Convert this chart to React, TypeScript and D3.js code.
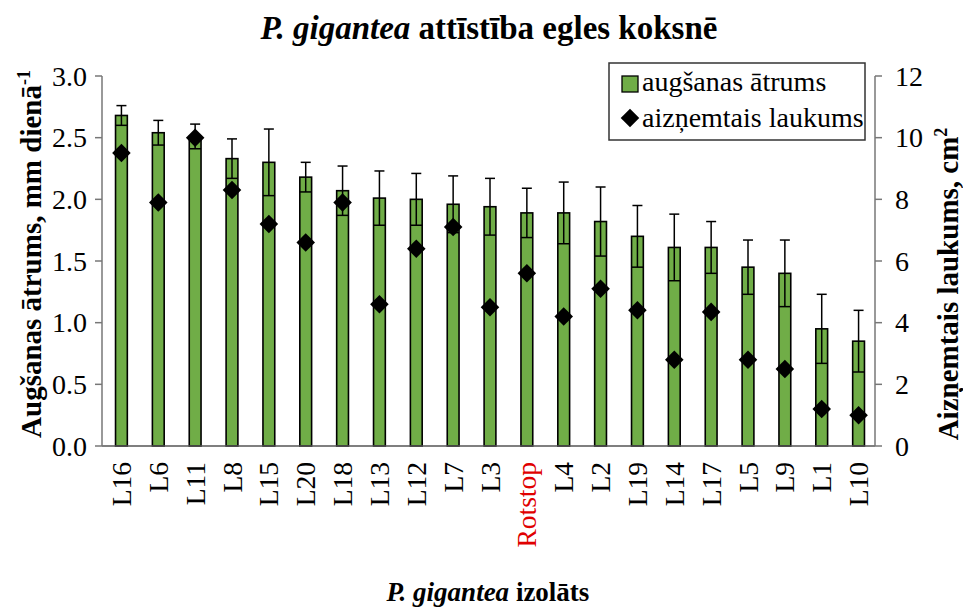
import React from "react";
import * as d3 from "d3";

const categories = ["L16","L6","L11","L8","L15","L20","L18","L13","L12","L7","L3","Rotstop","L4","L2","L19","L14","L17","L5","L9","L1","L10"];
const growthRate = [2.68,2.54,2.51,2.33,2.30,2.18,2.07,2.01,2.00,1.96,1.94,1.89,1.89,1.82,1.70,1.61,1.61,1.45,1.40,0.95,0.85];
const growthErr = [0.08,0.1,0.1,0.16,0.27,0.12,0.2,0.22,0.21,0.23,0.23,0.2,0.25,0.28,0.25,0.27,0.21,0.22,0.27,0.28,0.25];
const area = [9.5,7.9,10.0,8.3,7.2,6.6,7.9,4.6,6.4,7.1,4.5,5.6,4.2,5.1,4.4,2.8,4.35,2.8,2.5,1.2,1.0];
const leftTicks = [0,0.5,1,1.5,2,2.5,3];
const rightTicks = [0,2,4,6,8,10,12];

const W = 963, H = 607;
const FONT = "'Liberation Serif', 'Times New Roman', serif";

export default function App() {
  const left = 102, right = 875, top = 76, bottom = 446;
  const x = d3.scaleBand<string>().domain(categories).range([left + 1, right + 2]).paddingInner(0.68).paddingOuter(0.34);
  const yL = d3.scaleLinear().domain([0, 3]).range([bottom, top]);
  const yR = d3.scaleLinear().domain([0, 12]).range([bottom, top]);
  const bw = x.bandwidth();
  const diamond = d3.symbol().type(d3.symbolDiamond2).size(220)();

  return (
    <svg width={W} height={H} style={{ position: "absolute", left: 0, top: 0, background: "#fff" }} fontFamily={FONT}>
      <rect width={W} height={H} fill="#fff" />
      {/* title */}
      <text x={489} y={39} textAnchor="middle" fontSize={33} fontWeight="bold" fill="#000">
        <tspan fontStyle="italic">P. gigantea</tspan> attīstība egles koksnē
      </text>

      {/* bars */}
      {categories.map((c, i) => {
        const cx = (x(c) as number) + bw / 2;
        return (
          <g key={c}>
            <rect x={x(c)} y={yL(growthRate[i])} width={bw} height={bottom - yL(growthRate[i])} fill="#70AD47" stroke="#000" strokeWidth={1.6} />
            <line x1={cx} x2={cx} y1={yL(growthRate[i] - growthErr[i])} y2={yL(growthRate[i] + growthErr[i])} stroke="#000" strokeWidth={1.5} />
            <line x1={cx - bw / 2} x2={cx + bw / 2} y1={yL(growthRate[i] - growthErr[i])} y2={yL(growthRate[i] - growthErr[i])} stroke="#000" strokeWidth={1.5} />
            <line x1={cx - 5} x2={cx + 5} y1={yL(growthRate[i] + growthErr[i])} y2={yL(growthRate[i] + growthErr[i])} stroke="#000" strokeWidth={1.5} />
          </g>
        );
      })}
      {/* diamonds */}
      {categories.map((c, i) => {
        const cx = (x(c) as number) + bw / 2;
        return <path key={"d" + c} d={diamond || ""} transform={`translate(${cx},${yR(area[i])})`} fill="#000" />;
      })}

      {/* axes */}
      <line x1={left} x2={right} y1={bottom} y2={bottom} stroke="#555" strokeWidth={1.5} />
      <line x1={left} x2={left} y1={top} y2={bottom} stroke="#777" strokeWidth={1.5} />
      <line x1={right} x2={right} y1={top} y2={bottom} stroke="#777" strokeWidth={1.5} />
      {leftTicks.map((t) => (
        <g key={"l" + t}>
          <line x1={left - 7} x2={left} y1={yL(t)} y2={yL(t)} stroke="#777" strokeWidth={1.5} />
          <text x={87} y={yL(t)} dy="0.35em" textAnchor="end" fontSize={28} fill="#000">{d3.format(".1f")(t)}</text>
        </g>
      ))}
      {rightTicks.map((t) => (
        <g key={"r" + t}>
          <line x1={right} x2={right + 7} y1={yR(t)} y2={yR(t)} stroke="#777" strokeWidth={1.5} />
          <text x={895} y={yR(t)} dy="0.35em" textAnchor="start" fontSize={28} fill="#000">{t}</text>
        </g>
      ))}
      {categories.map((c) => {
        const cx = (x(c) as number) + bw / 2;
        return (
          <text key={"x" + c} transform={`translate(${cx},462) rotate(-90)`} dy="0.35em" textAnchor="end" fontSize={27.5} fill={c === "Rotstop" ? "#E00000" : "#000"}>{c}</text>
        );
      })}

      {/* axis titles */}
      <text transform="translate(31,254) rotate(-90)" dy="0.35em" textAnchor="middle" fontSize={29} fontWeight="bold" fill="#000">
        Augšanas ātrums, mm dienā<tspan dy="-0.6em" fontSize={18}>-1</tspan>
      </text>
      <text transform="translate(948,284) rotate(-90)" dy="0.35em" textAnchor="middle" fontSize={29} fontWeight="bold" fill="#000">
        Aizņemtais laukums, cm<tspan dy="-0.6em" fontSize={18}>2</tspan>
      </text>
      <text x={488} y={601} textAnchor="middle" fontSize={27} fontWeight="bold" fill="#000">
        <tspan fontStyle="italic">P. gigantea</tspan> izolāts
      </text>

      {/* legend */}
      <rect x={609} y={63} width={256} height={77} fill="#fff" stroke="#333" strokeWidth={1.5} />
      <rect x={622} y={76} width={16} height={16} fill="#70AD47" stroke="#000" strokeWidth={1.3} />
      <text x={642} y={91} fontSize={28} fill="#000">augšanas ātrums</text>
      <path d={diamond || ""} transform="translate(630,118)" fill="#000" />
      <text x={642} y={127} fontSize={28} fill="#000">aizņemtais laukums</text>
    </svg>
  );
}
